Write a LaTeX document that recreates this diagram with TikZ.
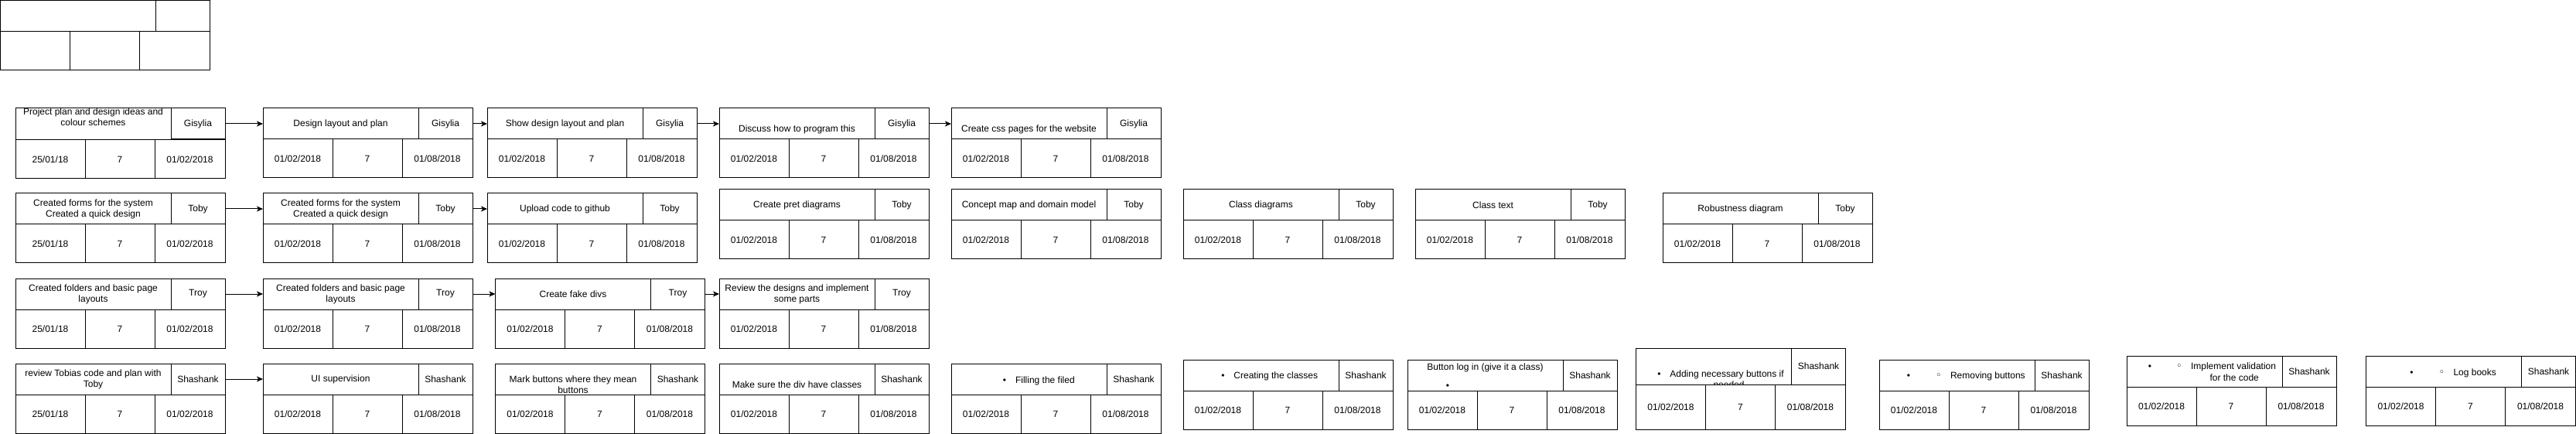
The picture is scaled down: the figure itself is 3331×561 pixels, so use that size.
\documentclass[tikz,border=0pt]{standalone}
\usepackage{fontspec}
\setmainfont{Liberation Sans}
\newfontfamily\dejavufont{DejaVu Sans}
\usetikzlibrary{arrows.meta}

% Task box: title, who, start, days, end
\newcommand{\tophgt}{40pt}
\newcommand{\bothgt}{50pt}
\newcommand{\taskbox}[8]{%
  \node[cell, minimum width=201pt, minimum height=\tophgt, anchor=north west] (#1t) at (#2, #3) {#4};
  \node[cell, minimum width=70pt, minimum height=\tophgt, anchor=north west] (#1n) at (#1t.north east) {#5};
  \node[cell, minimum width=90pt, minimum height=\bothgt, anchor=north west] (#1a) at (#1t.south west) {#6};
  \node[cell, minimum width=90pt, minimum height=\bothgt, anchor=north west] (#1b) at (#1a.north east) {#7};
  \node[cell, minimum width=91pt, minimum height=\bothgt, anchor=north west] (#1c) at (#1b.north east) {#8};
}

\begin{document}
\begin{tikzpicture}[x=1pt, y=-1pt, line width=1pt,
  cell/.style={draw, fill=white, rectangle, inner sep=0pt, outer sep=0pt, align=center, font=\fontsize{12pt}{14pt}\selectfont},
  txt/.style={inner sep=0pt, outer sep=0pt, font=\fontsize{12pt}{14pt}\selectfont},
  sub/.style={inner sep=0pt, outer sep=0pt, font=\dejavufont\fontsize{13pt}{14pt}\selectfont},
  flow/.style={-{Stealth[length=8pt, width=7pt, inset=2pt]}}]

\useasboundingbox (0, 0) rectangle (3331, 561);

% Key
\taskbox{key}{0.5}{0.5}{}{}{}{}{}

% Row 1
\taskbox{rA1}{20}{140}{Project plan and design ideas and\\colour schemes\\\strut}{Gisylia}{25/01/18}{7}{01/02/2018}
\taskbox{rA2}{340}{140}{Design layout and plan}{Gisylia}{01/02/2018}{7}{01/08/2018}
\taskbox{rA3}{630}{140}{Show design layout and plan}{Gisylia}{01/02/2018}{7}{01/08/2018}
\taskbox{rA4}{930}{140}{\strut\\Discuss how to program this}{Gisylia}{01/02/2018}{7}{01/08/2018}
\taskbox{rA5}{1230}{140}{\strut\\Create css pages for the website}{Gisylia}{01/02/2018}{7}{01/08/2018}

% Row 2
\taskbox{rB1}{20}{250}{Created forms for the system\\Created a quick design}{Toby}{25/01/18}{7}{01/02/2018}
\taskbox{rB2}{340}{250}{Created forms for the system\\Created a quick design}{Toby}{01/02/2018}{7}{01/08/2018}
\taskbox{rB3}{630}{250}{Upload code to github}{Toby}{01/02/2018}{7}{01/08/2018}
\taskbox{rB4}{930}{245}{Create pret diagrams}{Toby}{01/02/2018}{7}{01/08/2018}
\taskbox{rB5}{1230}{245}{Concept map and domain model}{Toby}{01/02/2018}{7}{01/08/2018}
\taskbox{rB6}{1530}{245}{Class diagrams}{Toby}{01/02/2018}{7}{01/08/2018}
\taskbox{rB7}{1830}{245}{Class text}{Toby}{01/02/2018}{7}{01/08/2018}
\taskbox{rB8}{2150}{250}{Robustness diagram}{Toby}{01/02/2018}{7}{01/08/2018}

% Row 3
\taskbox{rC1}{20}{360}{Created folders and basic page\\layouts}{Troy}{25/01/18}{7}{01/02/2018}
\taskbox{rC2}{340}{360}{Created folders and basic page\\layouts}{Troy}{01/02/2018}{7}{01/08/2018}
\taskbox{rC3}{640.5}{360}{Create fake divs}{Troy}{01/02/2018}{7}{01/08/2018}
\taskbox{rC4}{930}{360}{Review the designs and implement\\some parts}{Troy}{01/02/2018}{7}{01/08/2018}

% Row 4
\taskbox{rD1}{20}{470}{review Tobias code and plan with\\Toby}{Shashank}{25/01/18}{7}{01/02/2018}
\taskbox{rD2}{340}{470}{UI supervision}{Shashank}{01/02/2018}{7}{01/08/2018}
\taskbox{rD3}{640.5}{470}{\strut\\Mark buttons where they mean\\buttons}{Shashank}{01/02/2018}{7}{01/08/2018}
\taskbox{rD4}{930}{470}{\strut\\Make sure the div have classes}{Shashank}{01/02/2018}{7}{01/08/2018}
\taskbox{rD5}{1230}{470}{}{Shashank}{01/02/2018}{7}{01/08/2018}
\taskbox{rD6}{1530}{465}{}{Shashank}{01/02/2018}{7}{01/08/2018}
\taskbox{rD7}{1820}{465}{}{Shashank}{01/02/2018}{7}{01/08/2018}
\begin{scope}
\renewcommand{\tophgt}{47pt}\renewcommand{\bothgt}{58pt}
\taskbox{rD8}{2115.5}{450}{}{Shashank}{01/02/2018}{7}{01/08/2018}
\end{scope}
\taskbox{rD9}{2430}{465}{}{Shashank}{01/02/2018}{7}{01/08/2018}
\taskbox{rD10}{2750}{460}{}{Shashank}{01/02/2018}{7}{01/08/2018}
\taskbox{rD11}{3059.5}{460}{}{Shashank}{01/02/2018}{7}{01/08/2018}

% Lists
\node[txt, anchor=base] (rD5dot) at (1299, 495.7) {•};
\node[txt, anchor=base west] (rD5txt) at (1313, 495.7) {Filling the filed};
\node[txt, anchor=base] (rD6dot) at (1581.4, 489.3) {•};
\node[txt, anchor=base west] (rD6txt) at (1595.4, 489.3) {Creating the classes};
\node[txt, anchor=base] (rD7txt) at (1920.5, 478) {Button log in (give it a class)};
\node[txt, anchor=base] (rD7dot) at (1872, 502) {•};
\node[txt, anchor=base] (rD8dot) at (2145.5, 487.3) {•};
\node[txt, anchor=base west] (rD8txt) at (2159.3, 487.3) {Adding necessary buttons if};
\begin{scope}
\clip (2116, 451) rectangle (2315, 496.5);
\node[txt, anchor=base west] (rD8more) at (2215.5, 501.3) {needed};
\end{scope}
\node[txt, anchor=base] (rD9dot) at (2468, 489.3) {•};
\node[sub, anchor=base] (rD9sub) at (2507, 489.3) {◦};
\node[txt, anchor=base west] (rD9txt) at (2522, 489.3) {Removing buttons};
\node[txt, anchor=base] (rD10dot) at (2780, 477.3) {•};
\node[sub, anchor=base] (rD10sub) at (2818, 477.3) {◦};
\node[txt, anchor=base west] (rD10txt) at (2833, 477.3) {Implement validation};
\node[txt, anchor=base west] (rD10more) at (2857.5, 492) {for the code};
\node[txt, anchor=base] (rD11dot) at (3118.5, 485) {•};
\node[sub, anchor=base] (rD11sub) at (3157.5, 485) {◦};
\node[txt, anchor=base west] (rD11txt) at (3172.5, 485) {Log books};

% Arrows
\draw[flow] (rA1n.east) -- (rA2t.west);
\draw[flow] (rA2n.east) -- (rA3t.west);
\draw[flow] (rA3n.east) -- (rA4t.west);
\draw[flow] (rA4n.east) -- (rA5t.west);
\draw[flow] (rB1n.east) -- (rB2t.west);
\draw[flow] (rB2n.east) -- (rB3t.west);
\draw[flow] (rC1n.east) -- (rC2t.west);
\draw[flow] (rC2n.east) -- (rC3t.west);
\draw[flow] (rC3n.east) -- (rC4t.west);
\draw[flow] (rD1n.east) -- (rD2t.west);

\end{tikzpicture}
\end{document}
